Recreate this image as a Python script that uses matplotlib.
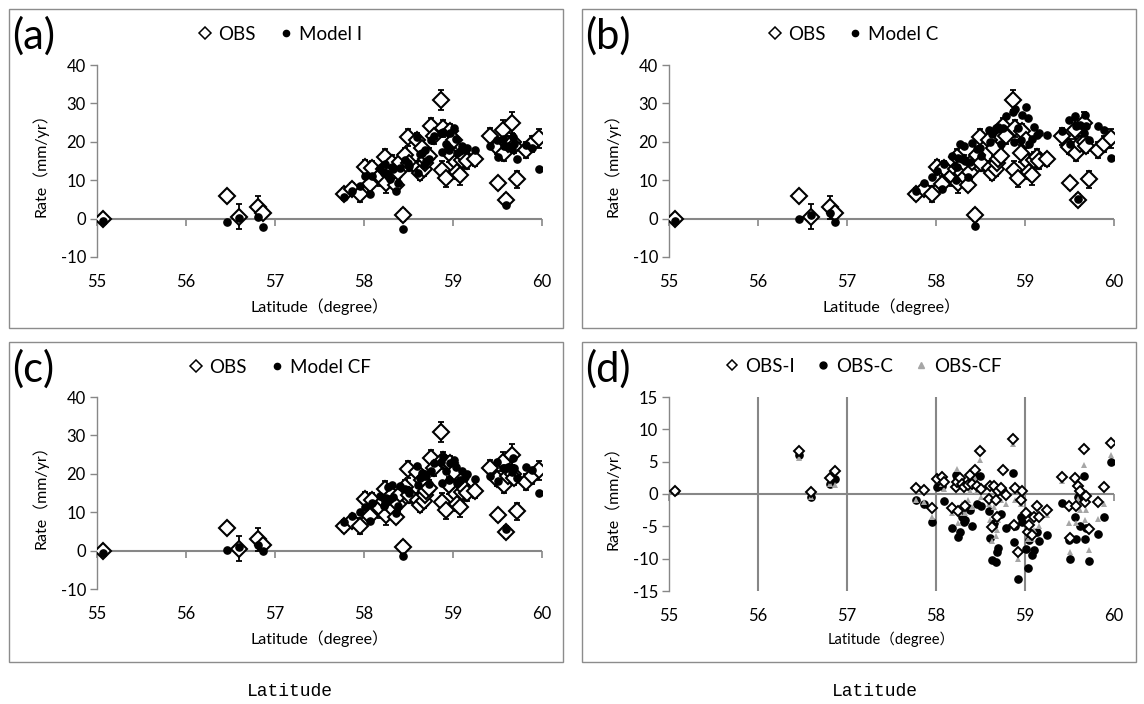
import numpy as np
import matplotlib
matplotlib.use("Agg")
import matplotlib.pyplot as plt
from matplotlib.lines import Line2D
from matplotlib.patches import Rectangle

plt.rcParams['axes.unicode_minus'] = False
TXT = ['Lato', 'Noto Sans CJK JP', 'DejaVu Sans']
plt.rcParams['font.family'] = TXT

# Station latitude (degree)
lat = [55.07, 56.46, 56.60, 56.81, 56.87, 57.77, 57.86, 57.96, 58.01, 58.07,
       58.09, 58.18, 58.22, 58.24, 58.25, 58.27, 58.29, 58.31, 58.33, 58.36,
       58.38, 58.40, 58.44, 58.46, 58.49, 58.51, 58.59, 58.61, 58.63, 58.65,
       58.67, 58.68, 58.70, 58.73, 58.75, 58.79, 58.86, 58.88, 58.89, 58.92,
       58.95, 58.97, 59.01, 59.03, 59.05, 59.08, 59.10, 59.13, 59.16, 59.25,
       59.42, 59.49, 59.51, 59.56, 59.57, 59.59, 59.62, 59.66, 59.67, 59.69,
       59.72, 59.82, 59.89, 59.97]

# Observed uplift rate (mm/yr) and its uncertainty
obs = [-0.2, 5.8, 0.5, 3.0, 1.4, 6.4, 7.8, 6.4, 13.4, 9.1,
       13.1, 11.1, 13.0, 16.1, 9.2, 13.5, 12.0, 14.5, 10.9, 8.7,
       12.2, 14.8, 1.0, 16.5, 21.2, 14.4, 20.5, 13.1, 11.8, 18.3,
       13.0, 14.4, 15.5, 16.3, 24.2, 21.4, 30.9, 12.6, 23.5, 10.5,
       17.0, 22.7, 20.5, 14.8, 12.2, 11.3, 15.3, 16.1, 15.0, 15.4,
       21.4, 18.7, 9.2, 23.1, 17.0, 4.8, 19.4, 25.0, 20.0, 19.0,
       10.2, 17.9, 19.4, 20.9]
obs_err = [1.2, 1.2, 3.3, 3.0, 1.2, 1.5, 1.5, 2.0, 1.8, 2.0,
           1.8, 2.5, 2.0, 2.0, 2.5, 2.0, 2.0, 2.0, 2.0, 1.5,
           1.8, 2.0, 1.5, 2.0, 2.2, 2.0, 1.8, 2.0, 1.8, 2.0,
           2.0, 2.0, 2.0, 2.0, 2.0, 2.0, 2.6, 2.5, 2.2, 2.2,
           2.2, 2.0, 2.0, 2.0, 2.0, 2.5, 2.0, 2.0, 2.0, 1.8,
           2.2, 2.0, 1.5, 2.5, 2.0, 1.5, 2.0, 2.8, 2.0, 2.0,
           2.2, 2.0, 2.0, 2.5]

# Modelled rates (mm/yr)
model_i = [-0.6, -0.8, 0.2, 0.5, -2.1, 5.5, 7.2, 8.5, 11.1, 6.4,
           11.2, 13.2, 11.9, 14.2, 11.9, 11.0, 10.4, 13.4, 12.8, 7.3,
           9.2, 13.2, -2.7, 15.2, 14.5, 13.6, 21.2, 11.9, 16.9, 17.1,
           13.9, 17.9, 15.0, 15.4, 20.5, 21.6, 22.4, 17.4, 22.6, 19.5,
           17.9, 22.3, 23.5, 20.7, 17.0, 17.6, 18.8, 17.9, 18.5, 17.9,
           18.8, 20.5, 16.0, 20.6, 18.8, 3.5, 19.0, 18.1, 21.3, 19.3,
           15.6, 19.1, 18.3, 13.0]
model_c = [-0.6, -0.2, 0.9, 1.4, -0.9, 7.3, 9.4, 10.8, 12.3, 7.8,
           14.2, 16.4, 10.1, 13.4, 15.9, 19.4, 15.5, 18.8, 14.9, 10.8,
           14.7, 19.7, -1.8, 18.0, 18.4, 16.3, 23.2, 19.9, 22.0, 22.8,
           23.5, 23.3, 23.9, 19.4, 23.7, 26.7, 27.7, 20.0, 28.5, 23.6,
           20.5, 27.0, 29.0, 26.2, 19.3, 20.7, 23.9, 21.9, 22.3, 21.8,
           22.8, 25.8, 19.3, 26.7, 24.0, 5.2, 24.4, 22.2, 27.0, 24.2,
           20.5, 24.1, 23.0, 15.9]
model_cf = [-0.5, 0.2, 0.9, 1.5, 0.0, 7.4, 9.0, 10.0, 11.4, 7.6,
            12.3, 14.1, 11.5, 12.3, 13.7, 16.5, 13.5, 17.0, 13.9, 9.7,
            11.7, 16.8, -1.5, 16.0, 15.9, 14.9, 22.0, 17.1, 19.0, 20.3,
            19.5, 19.9, 19.5, 17.3, 20.7, 22.9, 23.2, 17.6, 24.5, 20.6,
            18.5, 22.7, 23.5, 21.8, 17.7, 18.3, 20.8, 19.1, 20.0, 18.6,
            19.4, 23.2, 18.2, 21.6, 21.5, 5.6, 21.9, 20.5, 24.0, 21.5,
            18.8, 21.8, 20.9, 14.9]

x_ticks = [55, 56, 57, 58, 59, 60]
rate_ticks = [-10, 0, 10, 20, 30, 40]
resid_ticks = [-15, -10, -5, 0, 5, 10, 15]

obs_a = np.array(obs)
resid_i = obs_a - np.array(model_i)
resid_c = obs_a - np.array(model_c)
resid_cf = obs_a - np.array(model_cf)

W, H = 1144, 704
fig = plt.figure(figsize=(W / 100, H / 100), dpi=100)
fig.patch.set_facecolor('white')

AX_GRAY = '#878787'
TRI_GRAY = '#a6a6a6'


def px_axes(x0, x1, ytop, ybot):
    return fig.add_axes([x0 / W, 1 - ybot / H, (x1 - x0) / W, (ybot - ytop) / H])


def frame(x0, y0, x1, y1):
    fig.patches.append(Rectangle((x0 / W, 1 - y1 / H), (x1 - x0) / W, (y1 - y0) / H,
                                 transform=fig.transFigure, fill=False,
                                 edgecolor='#8c8c8c', linewidth=1.0))


def style_axes(ax, ylim, yticks, xlabel_size=11.5):
    ax.set_xlim(55, 60)
    ax.set_ylim(*ylim)
    ax.set_xticks(x_ticks)
    ax.set_yticks(yticks)
    for s in ('top', 'right', 'bottom'):
        ax.spines[s].set_visible(False)
    ax.spines['left'].set_color(AX_GRAY)
    ax.spines['left'].set_linewidth(1.0)
    ax.tick_params(axis='y', direction='out', length=5, width=1.0, color=AX_GRAY,
                   labelsize=12, pad=3)
    ax.tick_params(axis='x', length=0, labelsize=12, pad=12)
    ax.axhline(0, color=AX_GRAY, lw=1.5, zorder=1)
    frac = (0 - ylim[0]) / (ylim[1] - ylim[0])
    sec = ax.secondary_xaxis(frac)
    sec.set_alignment('bottom')
    sec.set_xticks(x_ticks)
    sec.tick_params(axis='x', direction='out', length=5, width=1.2, color=AX_GRAY,
                    labelbottom=False, labeltop=False, top=False, bottom=True)
    for s in sec.spines.values():
        s.set_visible(False)
    ax.set_xlabel('Latitude（degree）', fontsize=xlabel_size, labelpad=6)
    ax.set_ylabel('Rate（mm/yr）', fontsize=11.5, labelpad=9)


def obs_model_panel(ax, model):
    style_axes(ax, (-10, 40), rate_ticks)
    ax.errorbar(lat, obs, yerr=obs_err, fmt='none', ecolor='black', elinewidth=1.3,
                capsize=2.5, capthick=1.3, zorder=2)
    ax.plot(lat, obs, linestyle='none', marker='D', markersize=8.5,
            markerfacecolor='white', markeredgecolor='black', markeredgewidth=1.5,
            zorder=3)
    ax.plot(lat, model, linestyle='none', marker='o', markersize=5.2,
            color='black', zorder=4)
    handles = [Line2D([], [], linestyle='none', marker='D', markersize=6.5,
                      markerfacecolor='white', markeredgecolor='black', markeredgewidth=1.1),
               Line2D([], [], linestyle='none', marker='o', markersize=4.5, color='black')]
    return handles


# panel geometry (pixels)
L_A, R_A = 97, 542
L_B, R_B = 669, 1114
TOP1, BOT1 = 65, 257
TOP2, BOT2 = 397, 589

panels = [
    (L_A, R_A, TOP1, BOT1, model_i, 'Model I', '(a)', (9, 9, 563, 328)),
    (L_B, R_B, TOP1, BOT1, model_c, 'Model C', '(b)', (582, 9, 1136, 328)),
    (L_A, R_A, TOP2, BOT2, model_cf, 'Model CF', '(c)', (9, 342, 563, 662)),
]

for x0, x1, yt, yb, model, name, tag, fr in panels:
    frame(*fr)
    ax = px_axes(x0, x1, yt, yb)
    handles = obs_model_panel(ax, model)
    fig.legend(handles, ['OBS', name], loc='center', ncol=2,
               bbox_to_anchor=((fr[0] + 270) / W, 1 - (fr[1] + 25) / H),
               frameon=False, fontsize=13.5, handletextpad=0.2, columnspacing=1.1,
               handlelength=1.0)
    fig.text((fr[0] + 3) / W, 1 - (fr[1] + 27) / H, tag, fontsize=30,
             ha='left', va='center')

# panel (d): residuals
frame(582, 342, 1136, 662)
axd = px_axes(L_B, R_B, 397, 591)
style_axes(axd, (-15, 15), resid_ticks, xlabel_size=10.5)
axd.xaxis.grid(True, color=AX_GRAY, lw=1.5, zorder=0)
gl = axd.xaxis.get_gridlines()
gl[0].set_visible(False)
gl[-1].set_visible(False)
axd.set_axisbelow(True)
axd.plot(lat, resid_c, linestyle='none', marker='o', markersize=5.2, color='black', zorder=3)
axd.plot(lat, resid_cf, linestyle='none', marker='^', markersize=5, color=TRI_GRAY,
         markeredgewidth=0, zorder=4)
axd.plot(lat, resid_i, linestyle='none', marker='D', markersize=5.2,
         markerfacecolor='white', markeredgecolor='black', markeredgewidth=1.4, zorder=5)
hd = [Line2D([], [], linestyle='none', marker='D', markersize=5, markerfacecolor='white',
             markeredgecolor='black', markeredgewidth=1.1),
      Line2D([], [], linestyle='none', marker='o', markersize=5, color='black'),
      Line2D([], [], linestyle='none', marker='^', markersize=5, color=TRI_GRAY)]
fig.legend(hd, ['OBS-I', 'OBS-C', 'OBS-CF'], loc='center', ncol=3,
           bbox_to_anchor=(862 / W, 1 - 366 / H), frameon=False, fontsize=13.5,
           handletextpad=0.2, columnspacing=1.0, handlelength=1.0)
fig.text(585 / W, 1 - 369 / H, '(d)', fontsize=30, ha='left', va='center')

for cx in (290, 875):
    fig.text(cx / W, 1 - 691 / H, 'Latitude', fontsize=13, ha='center', va='center',
             family=['Liberation Mono', 'DejaVu Sans Mono'])

fig.savefig('out.png', dpi=100)
